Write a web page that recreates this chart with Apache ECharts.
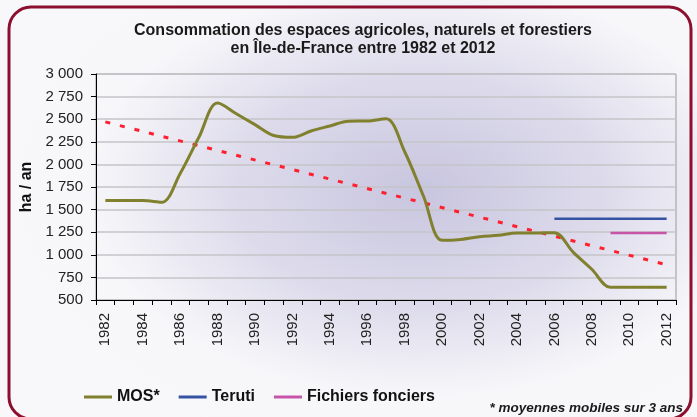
<!DOCTYPE html>
<html>
<head>
<meta charset="utf-8">
<script src="https://cdn.jsdelivr.net/npm/echarts@6/dist/echarts.min.js"></script>
<style>
  html, body { margin: 0; padding: 0; background: #fff; }
  #chart { width: 697px; height: 417px; }
</style>
</head>
<body>
<div id="chart"></div>
<script>
const years = ["1982", "1983", "1984", "1985", "1986", "1987", "1988", "1989", "1990", "1991",
  "1992", "1993", "1994", "1995", "1996", "1997", "1998", "1999", "2000", "2001",
  "2002", "2003", "2004", "2005", "2006", "2007", "2008", "2009", "2010", "2011", "2012"];

// MOS* (moyennes mobiles sur 3 ans)
const mos = [1600, 1600, 1600, 1580, 1900, 2300, 2680, 2560, 2440, 2320,
  2300, 2370, 2425, 2478, 2480, 2505, 2140, 1650, 1160, 1170,
  1200, 1215, 1240, 1240, 1245, 1030, 840, 640, 640, 640, 640];

const teruti = [null, null, null, null, null, null, null, null, null, null,
  null, null, null, null, null, null, null, null, null, null,
  null, null, null, null, 1400, 1400, 1400, 1400, 1400, 1400, 1400];

const fichiers = [null, null, null, null, null, null, null, null, null, null,
  null, null, null, null, null, null, null, null, null, null,
  null, null, null, null, null, null, null, 1240, 1240, 1240, 1240];

// trend line (red dots): only the two ends
const trend = [2470, null, null, null, null, null, null, null, null, null,
  null, null, null, null, null, null, null, null, null, null,
  null, null, null, null, null, null, null, null, null, null, 890];

const yTicks = { min: 500, max: 3000, step: 250 };

const chart = echarts.init(document.getElementById("chart"));

const option = {
  animation: false,
  textStyle: { fontFamily: "Liberation Sans" },
  title: {
    text: "Consommation des espaces agricoles, naturels et forestiers\nen Île-de-France entre 1982 et 2012",
    left: 358,
    textAlign: "center",
    top: 17,
    textStyle: { fontSize: 16, fontWeight: "bold", color: "#1a1a1a", lineHeight: 18 }
  },
  graphic: [
    {
      // soft lavender glow behind the plot
      type: "rect",
      z: -10,
      silent: true,
      x: -28,
      y: -90,
      scaleX: 1.6,
      shape: { x: 0, y: 0, width: 560, height: 560 },
      style: {
        fill: {
          type: "radial", x: 0.5, y: 0.5, r: 0.5,
          colorStops: [
            { offset: 0, color: "#c8c5df" },
            { offset: 0.41, color: "#dddbeb" },
            { offset: 0.74, color: "#f7f7fa" },
            { offset: 1, color: "#f8f8fa" }
          ]
        }
      }
    },
    {
      type: "rect",
      z: 100,
      silent: true,
      shape: { x: 9, y: 7, width: 682, height: 412, r: 22 },
      style: { fill: null, stroke: "#8c0f2e", lineWidth: 3 }
    },
    {
      type: "text",
      right: 14,
      top: 401,
      style: {
        text: "* moyennes mobiles sur 3 ans",
        font: "italic bold 13.5px 'Liberation Sans'",
        fill: "#1a1a1a"
      }
    }
  ],
  legend: {
    data: ["MOS*", "Teruti", "Fichiers fonciers"],
    left: 79,
    top: 384,
    icon: "rect",
    itemWidth: 28,
    itemHeight: 3,
    itemGap: 19,
    textStyle: { fontSize: 16, fontWeight: "bold", color: "#111" }
  },
  grid: {
    left: 96,
    right: 21,
    top: 74,
    bottom: 117,
    show: true,
    borderColor: "#999",
    borderWidth: 1,
    backgroundColor: "transparent"
  },
  xAxis: {
    type: "category",
    data: years,
    boundaryGap: true,
    axisLine: { lineStyle: { color: "#000", width: 1 } },
    axisTick: { show: true, interval: 0, length: 5, lineStyle: { color: "#000" } },
    axisLabel: {
      interval: 1,
      rotate: 90,
      margin: 13,
      fontSize: 15,
      color: "#222"
    }
  },
  yAxis: {
    type: "value",
    min: yTicks.min,
    max: yTicks.max,
    interval: yTicks.step,
    name: "ha / an",
    nameLocation: "middle",
    nameGap: 60,
    nameTextStyle: { fontSize: 16, fontWeight: "bold", color: "#111" },
    axisLine: { show: true, lineStyle: { color: "#000", width: 1 } },
    axisTick: { show: true, length: 5, lineStyle: { color: "#000" } },
    axisLabel: {
      fontSize: 15,
      color: "#222",
      margin: 13,
      formatter: v => String(v).replace(/\B(?=(\d{3})+(?!\d))/g, " ")
    },
    splitLine: { lineStyle: { color: "#c4c4c8", width: 1.5 } }
  },
  series: [
    {
      name: "trend",
      type: "line",
      data: trend,
      connectNulls: true,
      symbol: "none",
      lineStyle: { color: "#ff1f2f", width: 3, type: [5, 10] },
      z: 3
    },
    {
      name: "MOS*",
      type: "line",
      data: mos,
      smooth: 0.35,
      symbol: "none",
      itemStyle: { color: "#80802e" },
      lineStyle: { color: "#80802e", width: 3 },
      z: 4
    },
    {
      name: "Teruti",
      type: "line",
      data: teruti,
      symbol: "none",
      itemStyle: { color: "#3552a3" },
      lineStyle: { color: "#3552a3", width: 2.5 },
      z: 4
    },
    {
      name: "Fichiers fonciers",
      type: "line",
      data: fichiers,
      symbol: "none",
      itemStyle: { color: "#c655a8" },
      lineStyle: { color: "#c655a8", width: 2.5 },
      z: 4
    }
  ]
};

chart.setOption(option);
</script>
</body>
</html>
